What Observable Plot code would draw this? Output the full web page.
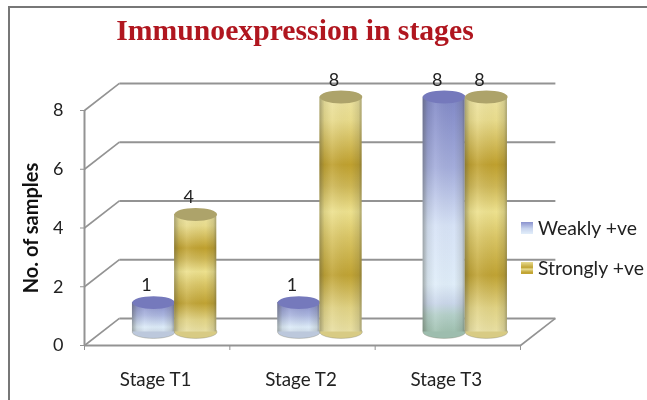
<!DOCTYPE html>
<html><head><meta charset="utf-8">
<script src="https://cdn.jsdelivr.net/npm/d3@7"></script>
<script src="https://cdn.jsdelivr.net/npm/@observablehq/plot@0.6"></script>
<style>
html,body{margin:0;padding:0;background:#fff;}
#page{position:relative;width:647px;height:400px;overflow:hidden;filter:blur(0.55px);}
#frame{position:absolute;left:8px;top:6px;width:640px;height:400px;border-left:2px solid #777;border-top:2px solid #777;}
#title{position:relative;height:60px;box-sizing:border-box;width:590px;text-align:center;font:bold 29.7px/60px "Liberation Serif",serif;color:#b0161f;}
#chart{position:absolute;left:0;top:60px;}
#chart svg{display:block;}
.leg{position:absolute;font:19.4px "Lato",sans-serif;color:#222;left:521px;display:flex;align-items:center;white-space:nowrap;}
.sw{display:inline-block;width:12px;height:12px;margin-right:5px;}
</style></head>
<body>
<div id="page">
<div id="frame"></div>
<div id="title"></div>
<div id="chart"></div>
<div id="legend"></div>
</div>
<script>
const chartTitle = "Immunoexpression in stages";
const stages = ["Stage T1", "Stage T2", "Stage T3"];
const seriesNames = ["Weakly +ve", "Strongly +ve"];
const weakly = [1, 1, 8];
const strongly = [4, 8, 8];
const yTicks = [0, 2, 4, 6, 8];
const yTitle = "No. of samples";

// 3D projection of the chart box, in data units
const depthX = 0.24, depthY = 0.92;
const barCentre = 0.62, barOffset = 0.145, barHalf = 0.145;

const rows = [];
stages.forEach((s, i) => {
  rows.push({i, series: 0, value: weakly[i], x: i + barCentre - barOffset, fill: i === 2 ? "url(#weakTall)" : "url(#weakShort)", cap: "#7579bc", foot: i === 2 ? "#9dbdae" : "#bcc8dc"});
  rows.push({i, series: 1, value: strongly[i], x: i + barCentre + barOffset, fill: "url(#gold)", cap: "#ada36a", foot: "#d8cb84"});
});
const base = depthY / 2;

const gradients = {
  weakShort: [[0, "#8489c6"], [0.45, "#aab5de"], [0.85, "#dcebf8"], [1, "#cfdcea"]],
  weakTall: [[0, "#8088c6"], [0.3, "#a3acdb"], [0.55, "#d6e2f6"], [0.8, "#dfedf9"], [0.88, "#c9d6ea"], [0.93, "#b3cfc8"], [1, "#9fc0b0"]],
  gold: [[0, "#ece3a0"], [0.1, "#e8db8c"], [0.29, "#bfa02e"], [0.38, "#cdb654"], [0.49, "#ede18e"], [0.6, "#d9c565"], [0.76, "#bfa233"], [0.9, "#e0d284"], [1, "#e8dfa2"]]
};

function defs() {
  const d = d3.create("svg:defs");
  for (const [id, stops] of Object.entries(gradients)) {
    const g = d.append("linearGradient").attr("id", id).attr("x1", 0).attr("x2", 0).attr("y1", 0).attr("y2", 1);
    stops.forEach(([o, c]) => g.append("stop").attr("offset", o).attr("stop-color", c));
  }
  const s = d.append("linearGradient").attr("id", "shade");
  [[0, "#4a4a3a", 0.42], [0.12, "#4a4a3a", 0.1], [0.3, "#fff", 0.1], [0.75, "#4a4a3a", 0], [0.93, "#4a4a3a", 0.15], [1, "#4a4a3a", 0.42]]
    .forEach(([o, c, a]) => s.append("stop").attr("offset", o).attr("stop-color", c).attr("stop-opacity", a));
  return d.node();
}

// flattened circle: the end of a cylinder seen from slightly above
const ellipse = {
  draw(ctx, size) {
    const rx = Math.sqrt(size / Math.PI), ry = rx * 0.3, k = 0.5523;
    ctx.moveTo(-rx, 0);
    ctx.bezierCurveTo(-rx, -ry * k, -rx * k, -ry, 0, -ry);
    ctx.bezierCurveTo(rx * k, -ry, rx, -ry * k, rx, 0);
    ctx.bezierCurveTo(rx, ry * k, rx * k, ry, 0, ry);
    ctx.bezierCurveTo(-rx * k, ry, -rx, ry * k, -rx, 0);
    ctx.closePath();
  }
};

const grid = "#939393";
const cylinder = (data) => [
  Plot.dot(data, {x: "x", y: base, symbol: ellipse, r: 21.3, fill: {value: "foot", scale: null}, stroke: "#8a8a78", strokeWidth: 0.4}),
  Plot.rect(data, {x1: d => d.x - barHalf, x2: d => d.x + barHalf, y1: base, y2: d => d.value + base, fill: {value: "fill", scale: null}}),
  Plot.rect(data, {x1: d => d.x - barHalf, x2: d => d.x + barHalf, y1: base, y2: d => d.value + base, fill: "url(#shade)"}),
  Plot.dot(data, {x: "x", y: d => d.value + base, symbol: ellipse, r: 21.3, fill: {value: "cap", scale: null}})
];

const plot = Plot.plot({
  width: 647, height: 340,
  marginLeft: 84, marginRight: 127, marginTop: 50, marginBottom: 55,
  style: {background: "transparent", overflow: "visible"},
  x: {domain: [0, 3], axis: null},
  y: {domain: [0, 8], axis: null},
  marks: [
    defs,
    // back wall grid lines and the oblique lines joining them to the axis
    Plot.link(yTicks, {x1: depthX, x2: 3 + depthX, y1: d => d + depthY, y2: d => d + depthY, stroke: grid, strokeWidth: 2}),
    Plot.link(yTicks, {x1: 0, x2: depthX, y1: d => d, y2: d => d + depthY, stroke: grid, strokeWidth: 1.6}),
    // floor
    Plot.link([0], {x1: 0, x2: 3, y1: 0, y2: 0, stroke: grid, strokeWidth: 2}),
    Plot.link([0], {x1: 3, x2: 3 + depthX, y1: 0, y2: depthY, stroke: grid, strokeWidth: 1.6}),
    Plot.ruleX([0], {y1: 0, y2: 8, stroke: grid, strokeWidth: 2}),
    // axes
    Plot.axisY({ticks: yTicks, tickSize: 4, stroke: grid, tickPadding: 17, label: null, fontSize: 18, fontFamily: "Lato, sans-serif", color: "#222"}),
    Plot.axisY({ticks: [], tickSize: 0, label: yTitle, labelAnchor: "center", labelArrow: "none", labelOffset: 61, fontSize: 20, fontWeight: "bold", fontFamily: "Lato, sans-serif", color: "#111"}),
    Plot.axisX({ticks: [0, 1, 2, 3], tickSize: 5, stroke: grid, tickFormat: () => "", label: null}),
    Plot.axisX({ticks: stages.map((_, i) => i + 0.5), tickSize: 0, tickPadding: 27, tickFormat: d => stages[Math.floor(d)], label: null, fontSize: 18.8, dx: -1.5, fontFamily: "Lato, sans-serif", color: "#222"}),
    // cylinders, one series after the other so the gold ones sit in front
    ...cylinder(rows.filter(d => d.series === 0)),
    ...cylinder(rows.filter(d => d.series === 1)),
    // value labels
    Plot.text(rows, {x: "x", y: d => d.value + base, text: "value", dx: -7, dy: -17, fontSize: 18, fontFamily: "Lato, sans-serif", fill: "#222"})
  ]
});

document.getElementById("title").textContent = chartTitle;
document.getElementById("chart").appendChild(plot);

const swatches = ["linear-gradient(#8a92ce,#c8d4ee 55%,#e2eefa)", "linear-gradient(#e8dc90,#c2a535 45%,#e8dc90 60%,#c2a535 85%)"];
const legend = document.getElementById("legend");
seriesNames.forEach((name, i) => {
  const row = document.createElement("div");
  row.className = "leg";
  row.style.top = (i ? 256 : 216) + "px";
  const sw = document.createElement("span");
  sw.className = "sw";
  sw.style.background = swatches[i];
  row.appendChild(sw);
  row.appendChild(document.createTextNode(name));
  legend.appendChild(row);
});
</script>
</body></html>
